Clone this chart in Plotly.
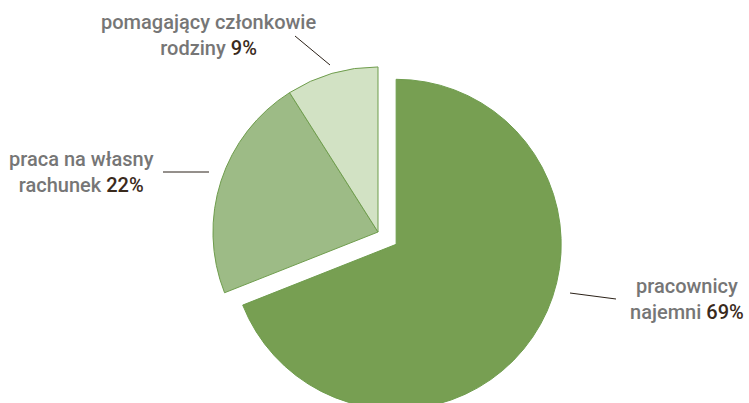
import plotly.graph_objects as go

categories = ["pracownicy najemni", "praca na własny rachunek", "pomagający członkowie rodziny"]
values = [69, 22, 9]
label_lines = ["pracownicy<br>najemni", "praca na własny<br>rachunek", "pomagający członkowie<br>rodziny"]
colors = ["#779f52", "#9dbb86", "#d2e2c4"]
pulls = [0.133, 0, 0]

W, H = 749, 440

def px(x):
    return x / W

def py(y):
    return 1 - y / H

fig = go.Figure(go.Pie(
    labels=categories,
    values=values,
    sort=False,
    direction="clockwise",
    rotation=0,
    pull=pulls,
    marker=dict(colors=colors, line=dict(color="#6f9d4d", width=1)),
    textinfo="none",
    hoverinfo="skip",
    showlegend=False,
    domain=dict(x=[px(191), px(565)], y=[py(419), py(45)]),
))

# label placement (pixel positions of label centres) and leader lines
label_pos = [(687, 299), (81, 172), (208, 35)]
leaders = [((570, 293), (616, 299)), ((163, 172), (209, 172)), ((295, 36), (330, 65))]

annotations = []
for txt, v, (lx, ly) in zip(label_lines, values, label_pos):
    annotations.append(dict(
        x=px(lx), y=py(ly), xref="paper", yref="paper",
        xanchor="center", yanchor="middle", showarrow=False, align="center",
        text=f"{txt} <span style='color:#3a2a1c'>{v}%</span>",
        font=dict(family="Roboto", size=20, color="#767676", weight=500),
    ))

shapes = []
for (x0, y0), (x1, y1) in leaders:
    shapes.append(dict(type="line", xref="paper", yref="paper",
                       x0=px(x0), y0=py(y0), x1=px(x1), y1=py(y1),
                       line=dict(color="#2b2118", width=1)))

fig.update_layout(
    width=W, height=H,
    margin=dict(l=0, r=0, t=0, b=0),
    paper_bgcolor="white", plot_bgcolor="white",
    annotations=annotations, shapes=shapes,
)

fig.write_html("out.html", config={"displayModeBar": False},
               post_script="document.body.style.margin='0';document.body.style.overflow='hidden';document.documentElement.style.overflow='hidden';")
